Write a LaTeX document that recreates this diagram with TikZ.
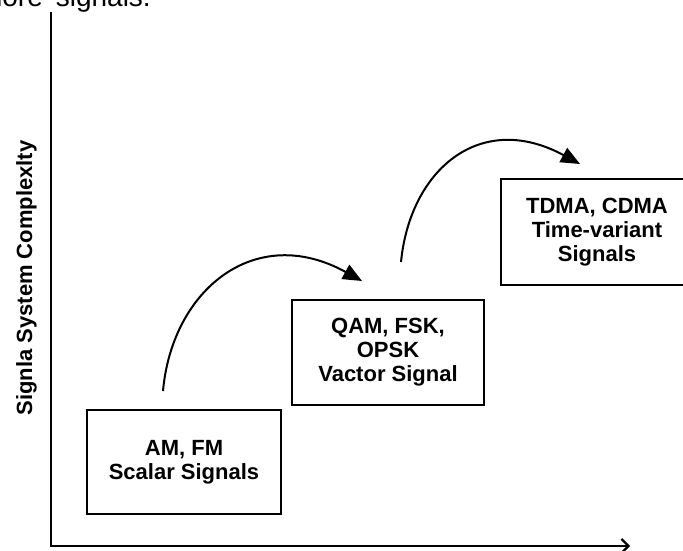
\documentclass[tikz,border=0pt]{standalone}
\usepackage{fontspec}
\setmainfont{Liberation Sans}
\usetikzlibrary{arrows.meta}

\tikzset{SigBox/.style={draw,line width=2.3pt,minimum width=192pt,minimum height=105pt,
           inner sep=0pt,outer sep=0pt,align=center,font=\bfseries\fontsize{22}{24}\selectfont},
         SigCurve/.style={line width=2pt,-{Triangle[length=19pt,width=16pt]}},
         SigAxis/.style={line width=2.2pt,-{Straight Barb[length=7pt,width=14pt]}}}

\begin{document}
\begin{tikzpicture}[x=1pt,y=-1pt,line join=miter]
  \useasboundingbox (0,0) rectangle (683,551);
  % axes, the vertical one runs off the top
  \coordinate (ytop) at (51,12);
  \coordinate (origin) at (51,546);
  \coordinate (xend) at (630,546);
  \draw[SigAxis] (ytop) -- (origin) -- (xend);
  \node[rotate=90,anchor=base,inner sep=0pt,font=\bfseries\fontsize{22}{24}\selectfont]
    (ylabel) at (32,278) {Signla System Complexlty};
  % caption line, cut by the page edge
  \node[anchor=base east,inner sep=0pt,font=\fontsize{28}{30}\selectfont]
    (caption) at (151,7) {more\hspace{13pt}signals.};
  % the three stages
  \node[SigBox,minimum width=194pt,minimum height=104pt] (am) at (184,462) {AM, FM\\Scalar Signals};
  \node[SigBox] (qam) at (388,352.5) {QAM, FSK,\\OPSK\\Vactor Signal};
  \node[SigBox,minimum height=106pt] (tdma) at (597,232) {TDMA, CDMA\\Time-variant\\Signals};
  % curved steps between them
  \coordinate (amUp) at (163,391);
  \coordinate (qamIn) at (362,281);
  \coordinate (qamUp) at (401,262);
  \coordinate (tdmaIn) at (580,164);
  \draw[SigCurve] (amUp) .. controls (172,290) and (255,222) .. (qamIn);
  \draw[SigCurve] (qamUp) .. controls (410,170) and (480,110) .. (tdmaIn);
\end{tikzpicture}
\end{document}
